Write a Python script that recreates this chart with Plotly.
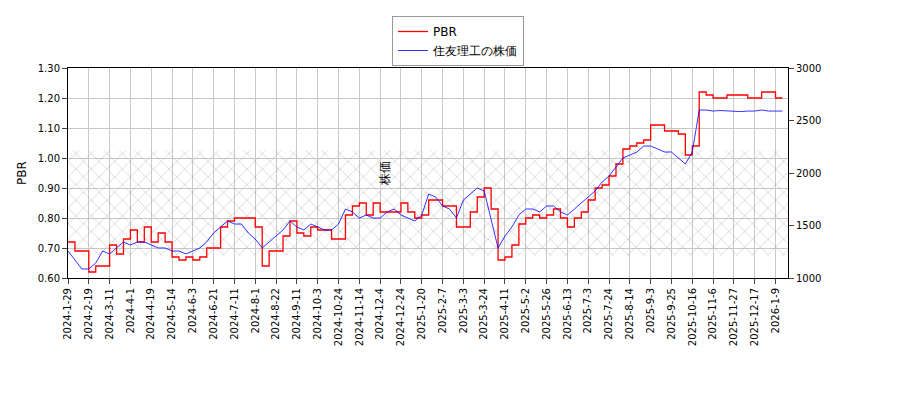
import plotly.graph_objects as go

tick_labels = ["2024-1-29","2024-2-19","2024-3-11","2024-4-1","2024-4-19","2024-5-14","2024-6-3","2024-6-21",
"2024-7-11","2024-8-1","2024-8-22","2024-9-11","2024-10-3","2024-10-24","2024-11-14","2024-12-4","2024-12-24",
"2025-1-20","2025-2-7","2025-3-3","2025-3-24","2025-4-11","2025-5-2","2025-5-26","2025-6-13","2025-7-3",
"2025-7-24","2025-8-14","2025-9-3","2025-9-25","2025-10-16","2025-11-6","2025-11-27","2025-12-17","2026-1-9"]

pbr = [0.72,0.69,0.69, 0.62,0.64,0.64, 0.71,0.68,0.73, 0.76,0.72,0.77, 0.72,0.75,0.72,
       0.67,0.66,0.67, 0.66,0.67,0.70, 0.70,0.77,0.79, 0.80,0.80,0.80, 0.77,0.64,0.69,
       0.69,0.74,0.79, 0.75,0.74,0.77, 0.76,0.76,0.73, 0.73,0.81,0.84, 0.85,0.81,0.85,
       0.82,0.82,0.82, 0.85,0.82,0.80, 0.81,0.86,0.86, 0.84,0.84,0.77, 0.77,0.82,0.87,
       0.90,0.83,0.66, 0.67,0.71,0.78, 0.80,0.81,0.80, 0.81,0.83,0.80, 0.77,0.80,0.82,
       0.86,0.90,0.91, 0.94,0.98,1.03, 1.04,1.05,1.06, 1.11,1.11,1.09, 1.09,1.08,1.01,
       1.04,1.22,1.21, 1.20,1.20,1.21, 1.21,1.21,1.20, 1.20,1.22,1.22, 1.20,1.20]

price = [1257,1171,1086, 1086,1143,1257, 1229,1286,1343, 1314,1343,1343, 1314,1286,1286,
         1257,1257,1229, 1257,1286,1343, 1429,1486,1543, 1514,1514,1429, 1371,1286,1343,
         1400,1457,1543, 1486,1457,1514, 1486,1457,1457, 1514,1657,1629, 1571,1600,1571,
         1571,1629,1657, 1600,1571,1543, 1600,1800,1771, 1686,1657,1571, 1743,1800,1857,
         1829,1571,1286, 1400,1486,1600, 1657,1657,1629, 1686,1686,1629, 1600,1657,1714,
         1771,1829,1914, 1971,2057,2143, 2171,2200,2257, 2257,2229,2200, 2200,2143,2086,
         2200,2600,2600, 2590,2595,2590, 2590,2585,2590, 2590,2600,2590, 2590,2590]

step = 5
xs = [i*step for i in range(len(pbr))]
tickvals = [i*15 for i in range(len(tick_labels))]
xmax = xs[-1] + 4

fig = go.Figure()
fig.add_trace(go.Scatter(x=[0, xmax, xmax, 0, 0], y=[0.675, 0.675, 1.025, 1.025, 0.675],
    fill="toself", mode="lines", line=dict(width=0), fillcolor="rgba(0,0,0,0)",
    fillpattern=dict(shape="x", fgcolor="#999999", bgcolor="rgba(0,0,0,0)", size=11, solidity=0.12),
    showlegend=False, hoverinfo="skip"))
fig.add_trace(go.Scatter(x=xs, y=pbr, name="PBR", mode="lines", line=dict(color="red", width=1.3, shape="hv")))
fig.add_trace(go.Scatter(x=xs, y=price, name="住友理工の株価", mode="lines", line=dict(color="blue", width=0.8), yaxis="y2"))

fig.update_layout(
    width=900, height=400, paper_bgcolor="white", plot_bgcolor="white",
    margin=dict(l=60, r=120, t=60, b=130, autoexpand=False),
    font=dict(family="DejaVu Sans", size=10, color="black"),
    legend=dict(x=0.5, y=0.98, xref="container", yref="container", xanchor="center", yanchor="top",
                bordercolor="#999", borderwidth=1, bgcolor="white", font=dict(size=12)),
    xaxis=dict(range=[0, xmax], tickvals=tickvals, ticktext=tick_labels, tickangle=-90,
               showgrid=True, gridcolor="#c8c8c8", ticks="outside", showline=True, linecolor="black",
               mirror=True, zeroline=False),
    yaxis=dict(range=[0.6, 1.3], dtick=0.1, tickformat=".2f", title=dict(text="PBR", standoff=8),
               showgrid=True, gridcolor="#c8c8c8", ticks="outside", showline=True, linecolor="black",
               zeroline=False),
    yaxis2=dict(range=[1000, 3000], dtick=500, overlaying="y", side="right", showgrid=False,
                ticks="outside", showline=True, linecolor="black", title=dict(text="株価", standoff=20),
                zeroline=False),
)
fig.write_html("out.html")
